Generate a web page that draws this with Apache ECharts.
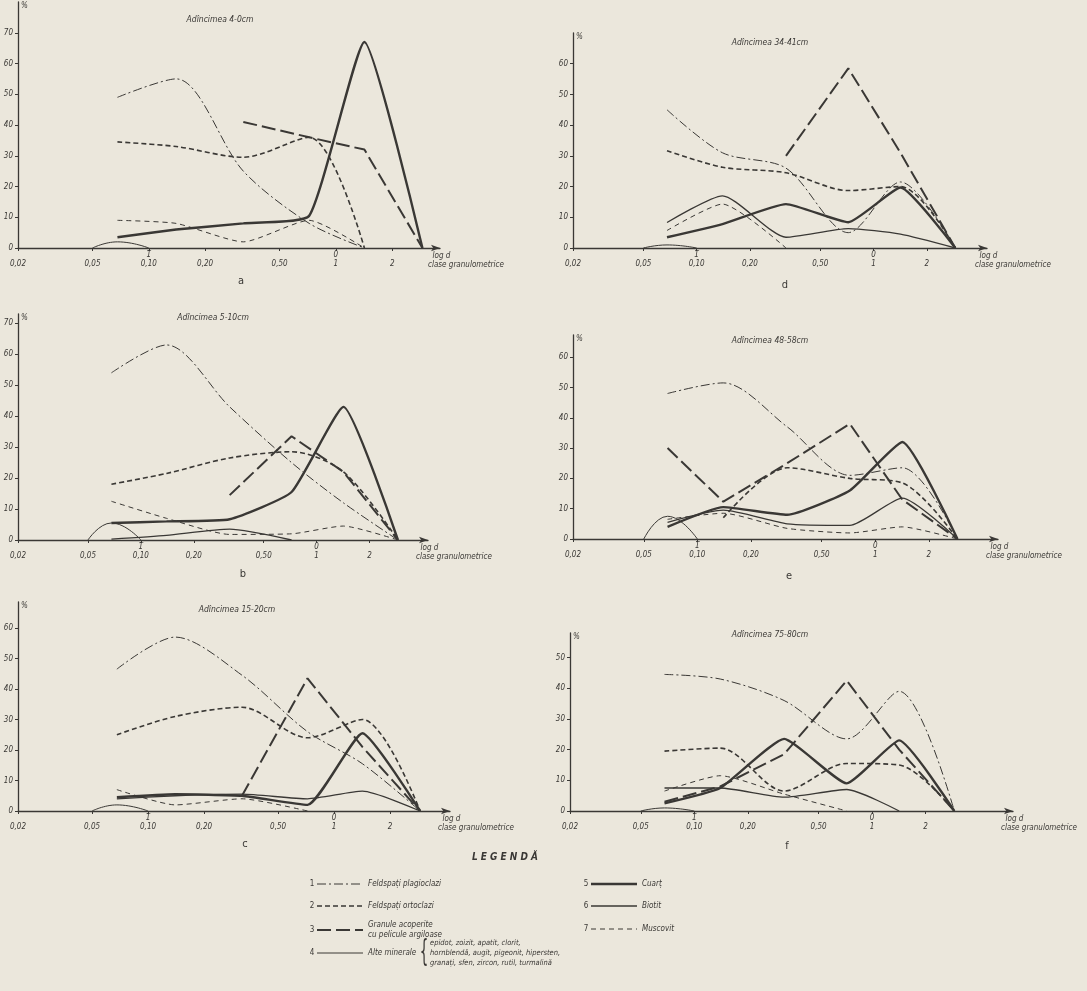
<!DOCTYPE html>
<html>
<head>
<meta charset="UTF-8">
<script src="https://cdn.jsdelivr.net/npm/echarts@6/dist/echarts.min.js"></script>
<style>
    html, body {margin: 0; padding: 0; background: #ebe7dc;}
    #granulometrie {width: 1087px; height: 991px;}
</style>
</head>
<body>
<div id="granulometrie"></div>
<script>
    /* clase granulometrice (mm): mijlocul claselor, axa log d */
    var classMid = [0.068, 0.14, 0.32, 0.72, 1.42, 2.9];
    var bumpX = [0.05, 0.068, 0.10];   // alte minerale, clasa 0,05-0,10
    var xTicks = [0.02, 0.05, 0.10, 0.20, 0.50, 1, 2];
    var xTickLabels = ['0,02', '0,05', '0,10', '0,20', '0,50', '1', '2'];
    var xTickLog = ['', '', '1\u0305', '', '', '0', ''];
    var yTicks70 = [0, 10, 20, 30, 40, 50, 60, 70];
    var yTicks60 = [0, 10, 20, 30, 40, 50, 60];
    var yTicks50 = [0, 10, 20, 30, 40, 50];

    var seriesNames = ['Feldspați plagioclazi', 'Feldspați ortoclazi', 'Granule acoperite cu pelicule argiloase',
        'Alte minerale', 'Cuarț', 'Biotit', 'Muscovit'];

    /* a - Adincimea 4-0cm */
    var plagA = [49, 55, 25, 8, 0];
    var ortoA = [34.5, 33, 29.5, 36, 0];
    var granA = [null, null, 41, 36, 32, 0];
    var alteA = [0, 2, 0];
    var cuartA = [3.5, 6, 8, 10.5, 67, 0];
    var biotA = [];
    var muscA = [9, 8, 2, 9, 0];

    /* b - Adincimea 5-10cm */
    var plagB = [54, 63, 43, 25, 12, 0];
    var ortoB = [18, 21.5, 26.5, 28.5, 22, 0];
    var granB = [null, null, 14.5, 33.5, 22, 0];
    var alteB = [0, 5.5, 0];
    var cuartB = [5.5, 6, 6.7, 15.5, 43, 0];
    var biotB = [0.3, 1.5, 3.5, 0];
    var muscB = [12.5, 7, 1.8, 2, 4.5, 0];

    /* c - Adincimea 15-20cm */
    var plagC = [46.5, 57, 44.5, 26, 15.5, 0];
    var ortoC = [25, 31, 34, 24, 30, 0];
    var granC = [null, null, 5, 43.5, 21, 0];
    var alteC = [0, 2, 0];
    var cuartC = [4.5, 5.5, 5, 2, 25.5, 0];
    var biotC = [4, 5, 5.5, 4, 6.5, 0];
    var muscC = [7, 2, 4, 0];

    /* d - Adincimea 34-41cm */
    var plagD = [45, 31, 26, 5, 21.5, 0];
    var ortoD = [31.7, 26.3, 24.5, 18.7, 20, 0];
    var granD = [null, null, 30, 58.5, 31, 0];
    var alteD = [0, 1, 0];
    var cuartD = [3.5, 7.8, 14.3, 8.4, 19.7, 0];
    var biotD = [8.3, 17, 3.5, 6.3, 4.5, 0];
    var muscD = [5.7, 14.3, 0];

    /* e - Adincimea 48-58cm */
    var plagE = [48, 51.5, 37, 21, 23.5, 0];
    var ortoE = [null, 7, 23.5, 20, 18.5, 0];
    var granE = [30, 12.3, 25, 38, 13, 0];
    var alteE = [0, 7.5, 0];
    var cuartE = [4, 10.5, 8, 16, 32, 0];
    var biotE = [5.5, 9.5, 5, 4.5, 13.5, 0];
    var muscE = [6.5, 8.5, 3.5, 2, 4, 0];

    /* f - Adincimea 75-80cm */
    var plagF = [44.5, 43, 36, 23.5, 39, 0];
    var ortoF = [19.5, 20.5, 6.5, 15.5, 15, 0];
    var granF = [3, 8, 18.5, 42.5, 20, 0];
    var alteF = [0, 1, 0];
    var cuartF = [2.5, 7.5, 23.5, 9, 23, 0];
    var biotF = [7.5, 7.5, 4.5, 7, 0];
    var muscF = [6.5, 11.5, 5.5, 0];

    var INK = '#3a3835';
    var FONT = "'Liberation Sans Narrow', 'DejaVu Sans Condensed', 'Liberation Sans', sans-serif";

    /* stil linii: 1..7 din legenda */
    var styles = [
        {width: 1, type: [9, 3, 2, 3], smooth: 0.3},
        {width: 1.6, type: [5, 3], smooth: 0.3},
        {width: 2, type: [14, 5], smooth: 0},
        {width: 1, type: 'solid', smooth: 0.5},
        {width: 2.4, type: 'solid', smooth: 0.15},
        {width: 1.3, type: 'solid', smooth: 0.2},
        {width: 1, type: [5, 4], smooth: 0.2}
    ];

    var panels = [
        {title: 'Adîncimea 4-0cm', letter: 'a', data: [plagA, ortoA, granA, alteA, cuartA, biotA, muscA],
            yTicks: yTicks70, yMax: 80, xMax: 3.6, left: 18, top: 2, width: 422, height: 246, tx: 220, ty: 15, lx: 241, ly: 276},
        {title: 'Adîncimea 5-10cm', letter: 'b', data: [plagB, ortoB, granB, alteB, cuartB, biotB, muscB],
            yTicks: yTicks70, yMax: 73, xMax: 4.3, left: 18, top: 314, width: 410, height: 226, tx: 213, ty: 313, lx: 243, ly: 569},
        {title: 'Adîncimea 15-20cm', letter: 'c', data: [plagC, ortoC, granC, alteC, cuartC, biotC, muscC],
            yTicks: yTicks60, yMax: 68.5, xMax: 4.2, left: 18, top: 602, width: 432, height: 209, tx: 237, ty: 605, lx: 245, ly: 839},
        {title: 'Adîncimea 34-41cm', letter: 'd', data: [plagD, ortoD, granD, alteD, cuartD, biotD, muscD],
            yTicks: yTicks60, yMax: 70, xMax: 4.38, left: 573, top: 33, width: 414, height: 215, tx: 770, ty: 38, lx: 785, ly: 280},
        {title: 'Adîncimea 48-58cm', letter: 'e', data: [plagE, ortoE, granE, alteE, cuartE, biotE, muscE],
            yTicks: yTicks60, yMax: 67.3, xMax: 4.9, left: 573, top: 335, width: 425, height: 204, tx: 770, ty: 336, lx: 789, ly: 571},
        {title: 'Adîncimea 75-80cm', letter: 'f', data: [plagF, ortoF, granF, alteF, cuartF, biotF, muscF],
            yTicks: yTicks50, yMax: 58, xMax: 6.2, left: 570, top: 633, width: 443, height: 178, tx: 770, ty: 630, lx: 787, ly: 841}
    ];

    function xLabel(v) {
        for (var i = 0; i < xTicks.length; i++) {
            if (Math.abs(Math.log10(xTicks[i]) - v) < 1e-6) {
                return (xTickLog[i] || ' ') + '\n' + xTickLabels[i];
            }
        }
        return '';
    }

    var labelStyle = {fontSize: 8, fontStyle: 'italic', fontFamily: FONT, color: INK};

    var grids = [], xAxes = [], yAxes = [], series = [], titles = [], graphics = [];

    panels.forEach(function (p, i) {
        grids.push({left: p.left, top: p.top, width: p.width, height: p.height, outerBoundsMode: 'none'});
        xAxes.push({
            gridIndex: i, type: 'value',
            min: Math.log10(0.02), max: Math.log10(p.xMax),
            splitLine: {show: false},
            axisLine: {show: true, onZero: false, symbol: ['none', 'arrow'], symbolSize: [5, 9], lineStyle: {color: INK, width: 1.3}},
            axisTick: {show: true, length: 3, customValues: xTicks.map(Math.log10), lineStyle: {color: INK}},
            axisLabel: Object.assign({customValues: xTicks.map(Math.log10), formatter: xLabel, margin: 2, lineHeight: 9}, labelStyle),
            name: '  log d\nclase granulometrice', nameLocation: 'end', nameGap: -12,
            nameTextStyle: Object.assign({align: 'left', verticalAlign: 'top', lineHeight: 9, padding: [3, 0, 0, 0]}, labelStyle)
        });
        yAxes.push({
            gridIndex: i, type: 'value', min: 0, max: p.yMax,
            splitLine: {show: false},
            axisLine: {show: true, onZero: false, lineStyle: {color: INK, width: 1.3}},
            axisTick: {show: true, length: 3, customValues: p.yTicks, lineStyle: {color: INK}},
            axisLabel: Object.assign({customValues: p.yTicks, margin: 5}, labelStyle),
            name: '%', nameLocation: 'end', nameGap: 0,
            nameTextStyle: Object.assign({align: 'left', verticalAlign: 'top', padding: [0, 0, 0, 3]}, labelStyle)
        });
        p.data.forEach(function (vals, k) {
            if (!vals.length) return;
            var xs = k === 3 ? bumpX : classMid;
            var pts = [];
            vals.forEach(function (v, j) {
                if (v !== null) pts.push([Math.log10(xs[j]), v]);
            });
            series.push({
                name: seriesNames[k], type: 'line', xAxisIndex: i, yAxisIndex: i,
                data: pts, symbol: 'none', smooth: styles[k].smooth, silent: true,
                z: k === 4 ? 4 : 3,
                lineStyle: {color: INK, width: styles[k].width, type: styles[k].type, cap: 'butt'}
            });
        });
        titles.push({
            text: p.title, left: p.tx, top: p.ty, textAlign: 'center', padding: 0,
            textStyle: {fontSize: 8.5, fontWeight: 'normal', fontStyle: 'italic', fontFamily: FONT, color: INK}
        });
        graphics.push({
            type: 'text', x: p.lx, y: p.ly,
            style: {text: p.letter, align: 'center', verticalAlign: 'top', font: '11px ' + FONT, fill: INK}
        });
    });

    /* legenda */
    graphics.push({
        type: 'text', x: 505, y: 857,
        style: {text: 'L E G E N D Ă', align: 'center', verticalAlign: 'middle', font: 'italic bold 10px ' + FONT, fill: INK}
    });
    var legendRows = [
        {k: 0, x: 312, y: 884, label: 'Feldspați plagioclazi'},
        {k: 1, x: 312, y: 906, label: 'Feldspați ortoclazi'},
        {k: 2, x: 312, y: 930, label: 'Granule acoperite\ncu pelicule argiloase'},
        {k: 3, x: 312, y: 953, label: 'Alte minerale'},
        {k: 4, x: 586, y: 884, label: 'Cuarț'},
        {k: 5, x: 586, y: 906, label: 'Biotit'},
        {k: 6, x: 586, y: 929, label: 'Muscovit'}
    ];
    legendRows.forEach(function (r) {
        var s = styles[r.k];
        graphics.push({
            type: 'text', x: r.x, y: r.y,
            style: {text: String(r.k + 1), align: 'center', verticalAlign: 'middle', font: '8px ' + FONT, fill: INK}
        });
        graphics.push({
            type: 'line', shape: {x1: r.x + 5, y1: r.y, x2: r.x + 51, y2: r.y},
            style: {stroke: INK, lineWidth: s.width, lineDash: s.type === 'solid' ? null : s.type}
        });
        graphics.push({
            type: 'text', x: r.x + 56, y: r.y,
            style: {text: r.label, align: 'left', verticalAlign: 'middle', font: 'italic 8px ' + FONT, lineHeight: 10, fill: INK}
        });
    });
    graphics.push({
        type: 'text', x: 424, y: 953, scaleX: 0.5,
        style: {text: '{', align: 'center', verticalAlign: 'middle', font: '30px ' + FONT, fill: INK}
    });
    graphics.push({
        type: 'text', x: 430, y: 953,
        style: {
            text: 'epidot, zoizit, apatit, clorit,\nhornblendă, augit, pigeonit, hipersten,\ngranați, sfen, zircon, rutil, turmalină',
            align: 'left', verticalAlign: 'middle', font: 'italic 7.5px ' + FONT, lineHeight: 10, fill: INK
        }
    });

    var chart = echarts.init(document.getElementById('granulometrie'));
    chart.setOption({
        backgroundColor: '#ebe7dc',
        animation: false,
        title: titles,
        grid: grids,
        xAxis: xAxes,
        yAxis: yAxes,
        series: series,
        graphic: graphics
    });
</script>
</body>
</html>
